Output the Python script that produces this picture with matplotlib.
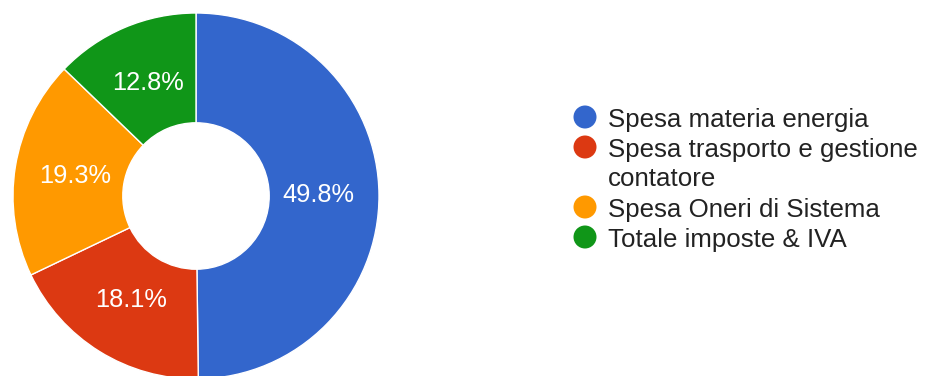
import textwrap
import matplotlib
matplotlib.use("Agg")
import matplotlib.pyplot as plt
from matplotlib.patches import Circle

categories = [
    "Spesa materia energia",
    "Spesa trasporto e gestione contatore",
    "Spesa Oneri di Sistema",
    "Totale imposte & IVA",
]
shares = [49.8, 18.1, 19.3, 12.8]
colors = ["#3366cc", "#dc3912", "#ff9900", "#109618"]

W, H = 926, 376
DPI = 100
plt.rcParams["font.family"] = ["Liberation Sans", "DejaVu Sans"]

fig = plt.figure(figsize=(W / DPI, H / DPI), dpi=DPI)

# donut placement in pixels (centre and outer radius)
cx, cy, R = 196, 196, 183
ax = fig.add_axes([(cx - R) / W, (H - cy - R) / H, 2 * R / W, 2 * R / H])
wedges, _, autotexts = ax.pie(
    shares,
    colors=colors,
    startangle=90,
    counterclock=False,
    radius=1.0,
    wedgeprops=dict(width=0.60, edgecolor="white", linewidth=1.0),
    autopct="%.1f%%",
    pctdistance=0.67,
    textprops=dict(color="white", fontsize=18.3),
)
ax.set_xlim(-1, 1)
ax.set_ylim(-1, 1)
ax.set_aspect("equal")
ax.axis("off")

# legend drawn in a pixel-space overlay
lg = fig.add_axes([0, 0, 1, 1], facecolor="none")
lg.set_xlim(0, W)
lg.set_ylim(H, 0)
lg.axis("off")

x_dot, x_text = 585, 608
y_line = 117
step = 30
for name, col in zip(categories, colors):
    lines = textwrap.wrap(name, width=26)
    lg.add_patch(Circle((x_dot, y_line), 11.5, color=col, lw=0))
    for ln in lines:
        lg.text(x_text, y_line, ln, fontsize=18.6, color="#222222",
                va="center_baseline", ha="left")
        y_line += step

fig.savefig("out.png", dpi=DPI, facecolor="white")
